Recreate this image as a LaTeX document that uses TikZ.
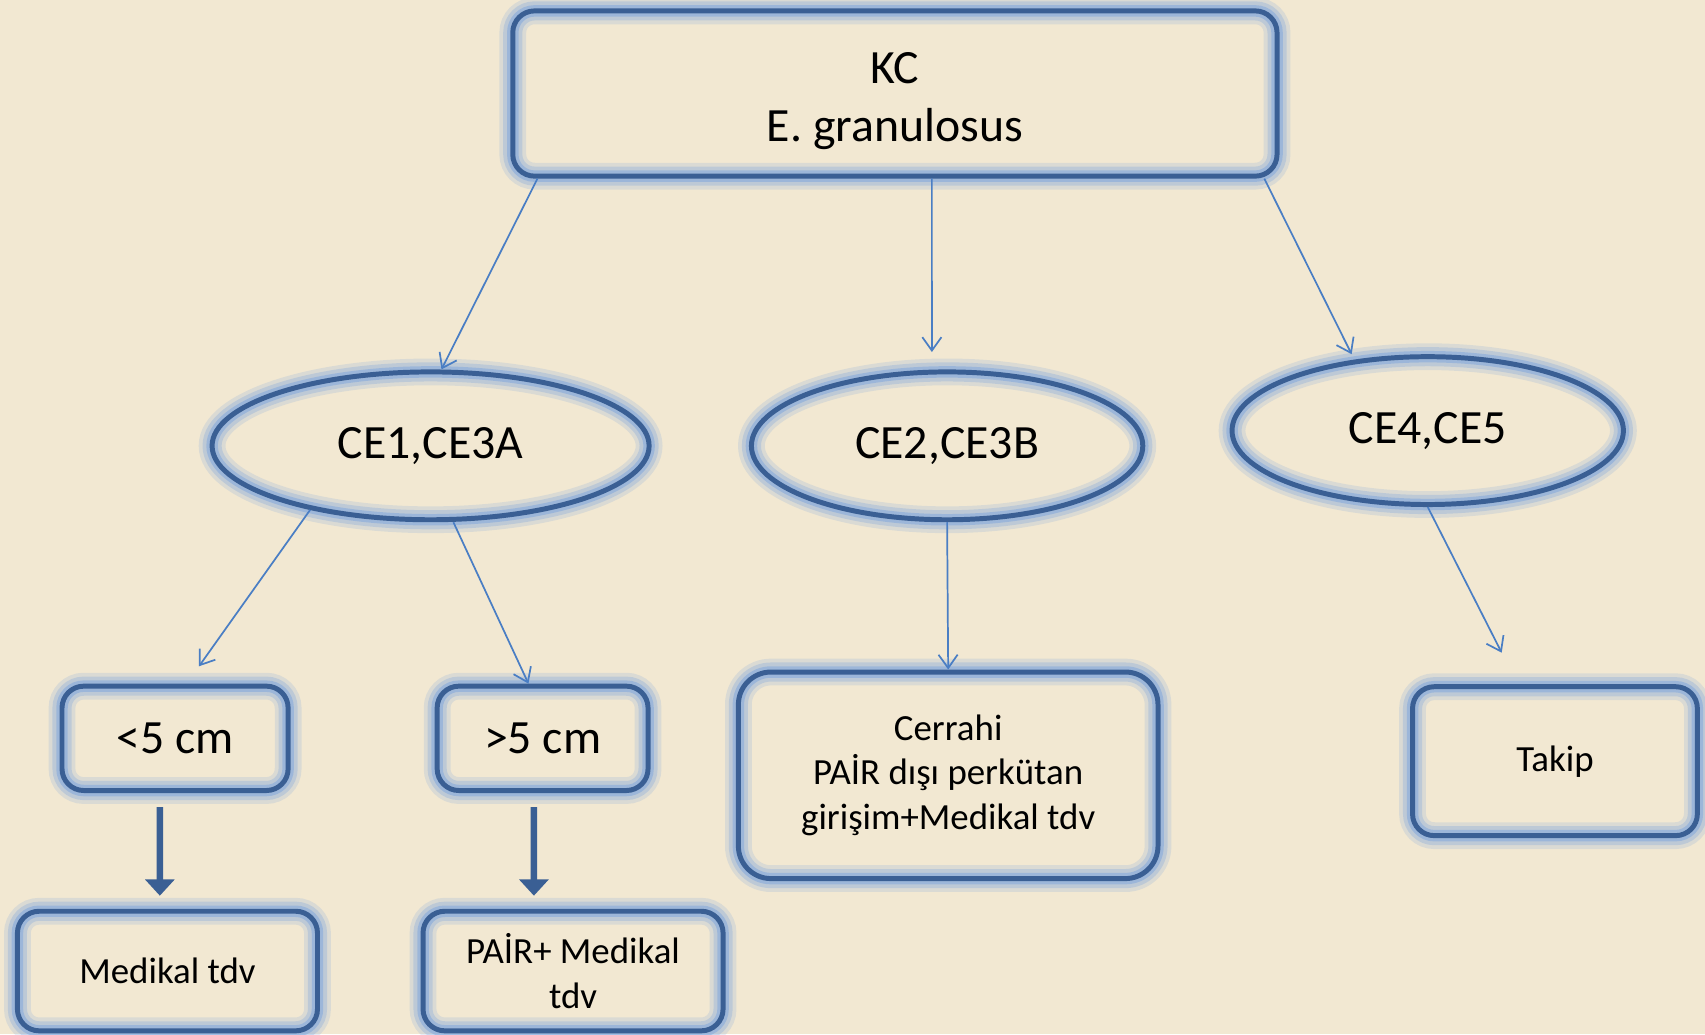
\documentclass[tikz,border=0pt]{standalone}
\usepackage{fontspec}
\setmainfont{Carlito}
\usetikzlibrary{shapes.geometric,arrows.meta}
\definecolor{paper}{RGB}{242,232,210}
\definecolor{edgeblue}{RGB}{58,95,148}
\definecolor{glowblue}{RGB}{125,165,220}
\definecolor{linkblue}{RGB}{74,126,196}
\begin{document}
\begin{tikzpicture}[x=0.02cm,y=-0.02cm,
        halo/.style={preaction={draw=glowblue,line width=14pt,opacity=0.2},
                     preaction={draw=glowblue,line width=10pt,opacity=0.3},
                     preaction={draw=glowblue,line width=6pt,opacity=0.5}}]
            \fill[paper] (0,0) rectangle (1568,951);
            \useasboundingbox (0,0) rectangle (1568,951);

            \begin{scope}[every node/.style={rectangle,rounded corners=0.4cm,draw=edgeblue,line width=2.6pt,halo,
                    align=center,inner sep=0pt,font=\fontsize{25}{30}\selectfont}]
                \node (kc) at (823,86) [minimum width=14.06cm,minimum height=3.04cm] {\\[-0.5ex]KC\\E. granulosus};
                \node (small) at (161,679) [minimum width=4.16cm,minimum height=1.92cm] {<5 cm};
                \node (large) at (499,679) [minimum width=3.88cm,minimum height=1.92cm] {>5 cm};
            \end{scope}
            \begin{scope}[every node/.style={ellipse,draw=edgeblue,line width=2.6pt,halo,
                    inner sep=0pt,minimum height=2.72cm,font=\fontsize{25}{30}\selectfont}]
                \node (ce1) at (396,410) [minimum width=8.04cm] {CE1,CE3A};
                \node (ce2) at (871,410) [minimum width=7.2cm] {CE2,CE3B};
                \node (ce3) at (1313,396) [minimum width=7.2cm] {CE4,CE5};
            \end{scope}
            \begin{scope}[every node/.style={rectangle,rounded corners=0.4cm,draw=edgeblue,line width=2.6pt,halo,
                    align=center,inner sep=0pt,font=\fontsize{19.3}{23.5}\selectfont}]
                \node (cerrahi) at (872,713) [minimum width=7.72cm,minimum height=3.8cm,rounded corners=0.6cm]
                    {Cerrahi\\PAİR dışı perkütan\\girişim+Medikal tdv};
                \node (takip) at (1430,700) [minimum width=5.24cm,minimum height=2.74cm] {Takip};
                \node (medikal) at (154,893) [minimum width=5.52cm,minimum height=2.2cm] {Medikal tdv};
                \node (pair) at (527,893) [minimum width=5.52cm,minimum height=2.2cm] {PAİR+ Medikal\\tdv};
            \end{scope}

            \begin{scope}[every edge/.style={draw=linkblue,line width=0.9pt,-{Straight Barb[length=7pt,width=10pt]}}]
                \path
                    ([xshift=0.5cm]kc.south west) edge ([xshift=0.2cm]ce1.north)
                    ([xshift=0.68cm]kc.south) edge ([xshift=-0.28cm,yshift=0.32cm]ce2.north)
                    ([xshift=-0.28cm]kc.south east) edge ([xshift=-1.4cm]ce3.north)
                    (ce1.-152) edge ([xshift=0.44cm,yshift=0.32cm]small.north)
                    ([xshift=0.42cm]ce1.south) edge ([xshift=-0.26cm]large.north)
                    (ce2.south) edge (cerrahi.north)
                    (ce3.south) edge ([xshift=-0.98cm,yshift=0.58cm]takip.north);
            \end{scope}
            \begin{scope}[every edge/.style={draw=edgeblue,line width=3.4pt,-{Triangle[length=8.5pt,width=15pt]}}]
                \path
                    ([xshift=-0.28cm,yshift=-0.26cm]small.south) edge ([xshift=-0.14cm,yshift=0.24cm]medikal.north)
                    ([xshift=-0.16cm,yshift=-0.26cm]large.south) edge ([xshift=-0.72cm,yshift=0.24cm]pair.north);
            \end{scope}
        \end{tikzpicture}
\end{document}
